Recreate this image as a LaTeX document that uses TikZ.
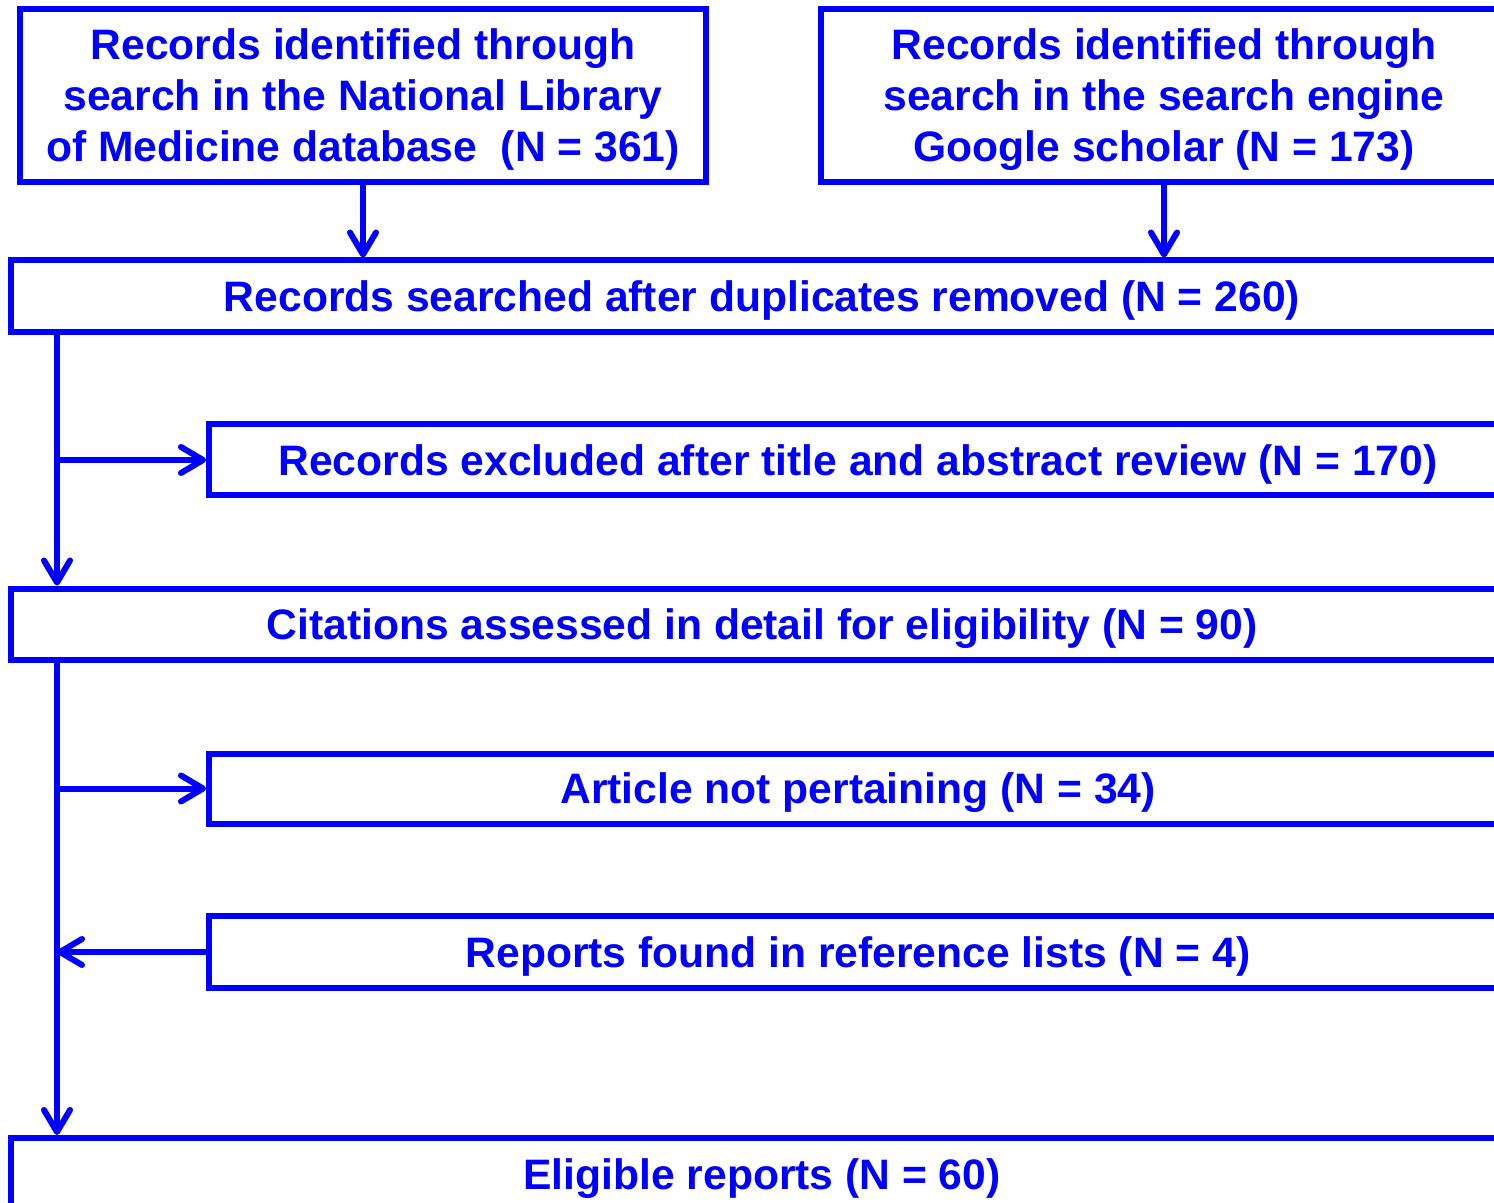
\documentclass[tikz,border=0pt]{standalone}
\usepackage{fontspec}
\setmainfont{Liberation Sans}
\usetikzlibrary{arrows.meta}
\begin{document}
\begin{tikzpicture}[x=0.5pt, y=-0.5pt,
    record/.style ={rectangle, draw=blue, line width=3pt, text=blue, inner sep=0pt, align=center,
      text depth=0pt, font=\bfseries\fontsize{21.3}{25.5}\selectfont},
    flow/.style ={draw=blue, line width=3pt, -{Straight Barb[length=11pt, width=13pt, round]}}]
   \useasboundingbox (0,0) rectangle (1494,1203);
   \clip (0,0) rectangle (1494,1203);
   \coordinate (T) at (57,0);
   \node[record, minimum width=343pt, minimum height=86.5pt] (A) at (363,95.5) {Records identified through\\search in the National Library\\of Medicine database\ \ (N = 361)};
   \node[record, minimum width=343pt, minimum height=86.5pt] (B) at (1164,95.5) {Records identified through\\search in the search engine\\Google scholar (N = 173)};
   \node[record, minimum width=751pt, minimum height=36pt] (C) at (762,296.5) {Records searched after duplicates removed (N = 260)};
   \node[record, minimum width=649pt, minimum height=35.5pt] (D) at (858,460) {Records excluded after title and abstract review (N = 170)};
   \node[record, minimum width=751pt, minimum height=35.5pt] (E) at (762,624) {Citations assessed in detail for eligibility (N = 90)};
   \node[record, minimum width=649pt, minimum height=35pt] (F) at (858,788.5) {Article not pertaining (N = 34)};
   \node[record, minimum width=649pt, minimum height=36pt] (G) at (858,952) {Reports found in reference lists (N = 4)};
   \node[record, minimum width=751pt, minimum height=36pt] (H) at (762,1174) {Eligible reports (N = 60)};

   \draw[flow] (A) -- (A |- C.north);
   \draw[flow] (B) -- (B |- C.north);
   \draw[flow] (C.south -| T) -- (E.north -| T);
   \draw[flow] (D.west -| T) -- (D.west);
   \draw[flow] (E.south -| T) -- (H.north -| T);
   \draw[flow] (F.west -| T) -- (F.west);
   \draw[flow] (G.west) -- (G.west -| T);
 \end{tikzpicture}
\end{document}
